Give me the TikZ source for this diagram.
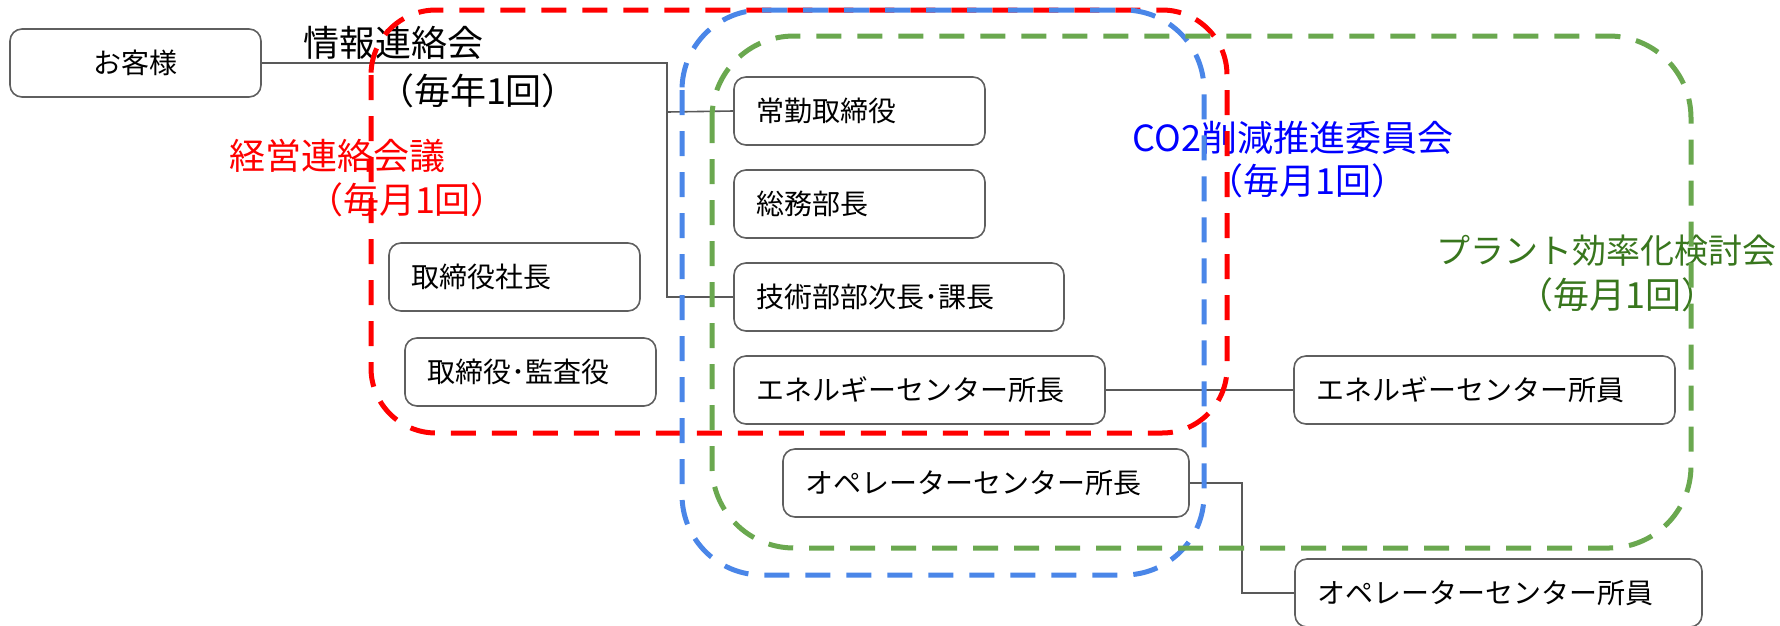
\documentclass[tikz,border=0pt]{standalone}
\usepackage{fontspec}
\setmainfont{Noto Sans CJK JP}
\definecolor{boxgray}{HTML}{5F5F5F}
\definecolor{conngray}{HTML}{595959}
\definecolor{jred}{HTML}{FF0000}
\definecolor{jblue}{HTML}{0000FF}
\definecolor{jgreen}{HTML}{38761D}
\definecolor{fblue}{HTML}{4A86E8}
\definecolor{fgreen}{HTML}{6AA84F}
\begin{document}
\begin{tikzpicture}[x=1pt,y=-1pt,
  box/.style={draw=boxgray, line width=1.6pt, rounded corners=12pt, fill=white,
    minimum height=68pt, inner xsep=22pt, inner ysep=0pt,
    font=\fontsize{28}{34}\selectfont, align=left, text width=#1},
  cbox/.style={box=#1, align=center},
  conn/.style={draw=conngray, line width=1.6pt},
  lab/.style={inner sep=0pt, font=\fontsize{36}{42}\selectfont},
  frame/.style={line width=5pt, dash pattern=on 25pt off 16pt}]
\useasboundingbox (0,0) rectangle (1780,625);
\clip (0,0) rectangle (1780,625);

% boxes
\node[cbox=207pt] (okyaku) at (135.5,63) {お客様};
\node[box=207pt] (joukin) at (859.5,111) {常勤取締役};
\node[box=207pt] (soumu) at (859.5,204) {総務部長};
\node[box=286pt] (gijutsu) at (899,297) {技術部部次長･課長};
\node[box=327pt] (enecho) at (919.5,390) {エネルギーセンター所長};
\node[box=362pt] (opecho) at (986,483) {オペレーターセンター所長};
\node[box=207pt] (shacho) at (514.5,277) {取締役社長};
\node[box=207pt] (kansa) at (530.5,372) {取締役･監査役};
\node[box=337pt] (enein) at (1484.5,390) {エネルギーセンター所員};
\node[box=363pt] (opein) at (1498.5,593) {オペレーターセンター所員};

% connectors
\coordinate (jn) at (667,112);
\coordinate (ob) at (1242,483);
\draw[conn] (okyaku.east) -| (jn) -- (joukin.west);
\draw[conn] (jn) |- (gijutsu.west);
\draw[conn] (enecho.east) -- (enein.west);
\draw[conn] (opecho.east) -- (ob) |- (opein.west);

% labels
\node[lab] (jouhou) at (393,43) {情報連絡会};
\node[lab] (jouhouf) at (478,91) {（毎年1回）};
\node[lab, text=jred] (keiei) at (337,156) {経営連絡会議};
\node[lab, text=jred] (keieif) at (407,200) {（毎月1回）};
\node[lab, text=jblue] (co2) at (1293,138) {CO2削減推進委員会};
\node[lab, text=jblue] (co2f) at (1307,181) {（毎月1回）};
\node[lab, text=jgreen, font=\fontsize{34}{40}\selectfont] (plant) at (1606,251) {プラント効率化検討会};
\node[lab, text=jgreen] (plantf) at (1617,295) {（毎月1回）};

% dashed frames
\draw[frame, draw=jred, rounded corners=65pt] (371,10) rectangle (1227,433);
\draw[frame, draw=fblue, rounded corners=80pt] (682,10) rectangle (1204,575);
\draw[frame, draw=fgreen, rounded corners=82pt] (712,36) rectangle (1691,548);
\end{tikzpicture}
\end{document}
